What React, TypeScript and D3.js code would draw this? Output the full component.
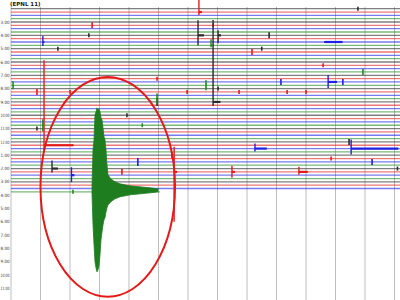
import React from "react";
import * as d3 from "d3";

// ---- data ----
const traceCount = 56; // rows, 15 minutes each
const rowColors = ["#2a2a2a", "#e41a1a", "#1f1fe6", "#1f8a1f"]; // cycle per row
const lastRowEndMinute = 5.05;
const hourLabels = ["3:00","4:00","5:00","6:00","7:00","8:00","9:00","10:00","11:00","12:00","1:00","2:00","3:00","4:00","5:00","6:00","7:00","8:00","9:00","10:00","11:00"];
const headerText = "(EPNL 11)";
const gridMinutes = [0,1,2,3,4,5,6,7,8,9,10,11,12,13,14,15];

// large events: row, minute, up amplitude, down amplitude, coda length (minutes)
const eventRows = [1, 8, 8, 28, 11, 22, 10, 42, 49, 41, 48, 50, 49, 42, 49, 10];
const eventMinutes = [6.37, 6.34, 7.02, 6.85, 6.78, 10.75, 1.08, 11.53, 9.76, 1.12, 1.39, 2.05, 5.53, 8.27, 7.49, 10.64];
const eventUp = [14, 15, 5, 82, 6, 7, 6, 9, 5, 85, 8, 8, 25, 5, 6, 1];
const eventDown = [3, 10, 8, 4, 2, 6, 4, 6, 3, 6, 4, 7, 50, 3, 6, 1];
const eventCoda = [0.1, 0.2, 0.1, 0.25, 0.05, 0.3, 0.05, 1.6, 0.3, 1.0, 0.2, 0.1, 0.1, 0.4, 0.1, 0.6];

// small blips: row, minute, amplitude
const blipRows = [5, 8, 12, 23, 25, 25, 36, 35, 32, 28, 35, 44, 46, 49, 55, 21, 23, 27, 25, 25, 24, 5, 8, 13, 12, 22, 22, 17, 25, 25, 19, 0, 46, 45, 40, 48];
const blipMinutes = [2.75, 2.64, 1.59, 0.07, 0.88, 2.0, 0.88, 1.08, 3.93, 4.95, 4.45, 5.46, 4.3, 3.76, 2.1, 4.95, 6.61, 4.95, 5.97, 7.73, 7.02, 6.85, 8.75, 8.17, 8.5, 9.15, 11.25, 10.58, 9.36, 10.0, 11.93, 11.76, 12.24, 10.85, 11.46, 13.1];
const blipAmp = [3, 2, 2, 4, 3, 2, 2, 6, 2, 4, 2, 3, 4, 3, 2, 2, 5, 5, 2, 2, 2, 2, 3, 3, 2, 3, 3, 2, 2, 2, 3, 2, 3, 2, 3, 2];

// main earthquake (green row 55) envelope
const quakeRow = 55;
const quakeMinutes = [2.746, 2.780, 2.814, 2.847, 2.881, 2.915, 2.949, 2.983, 3.017, 3.051, 3.085, 3.119, 3.153, 3.186, 3.220, 3.254, 3.288, 3.356, 3.424, 3.525, 3.695, 3.864, 4.034, 4.373, 4.712, 4.983];
const quakeUp = [6, 42, 52, 77, 80, 84, 82, 83, 80, 74, 72, 64, 55, 52, 42, 27, 17, 14, 12, 10, 8, 7, 6, 5, 4, 3];
const quakeDown = [2, 33, 53, 70, 76, 80, 78, 74, 63, 48, 40, 33, 28, 26, 20, 16, 13, 11, 9, 7, 5, 4, 3, 2, 1, 0];

// annotation ellipse (center minute / row, radii in minutes / rows)
const ringCenter = [3.28, 53.5];
const ringRadius = [2.28, 33];

export default function App() {
  const W = 400, H = 300;
  const x = d3.scaleLinear().domain([0, 15]).range([11, 453.5]);
  const y = d3.scaleLinear().domain([0, 55]).range([8.7, 191.85]);
  const amp = d3.scaleLinear().domain([0, 1]).range([0, 1]);
  const color = (r: number) => rowColors[r % 4];

  const quakeData = quakeMinutes.map((m, i) => ({ m, up: quakeUp[i], down: quakeDown[i] }));
  const yq = y(quakeRow);
  const area = d3.area<any>()
    .x((d) => x(d.m))
    .y0((d) => yq + amp(d.down))
    .y1((d) => yq - amp(d.up))
    .curve(d3.curveLinear);

  const labelRows = hourLabels.map((_, i) => 4 * (i + 1));

  return (
    <svg width={W} height={H} style={{ position: "fixed", left: 0, top: 0, background: "#fff" }}
      fontFamily="DejaVu Sans, sans-serif">
      <rect width={W} height={H} fill="#fff" />
      {/* vertical grid */}
      {gridMinutes.map((m) => (
        <line key={"g" + m} x1={x(m)} x2={x(m)} y1={7} y2={H} stroke="#bdbdbd" strokeWidth={1} />
      ))}
      {/* traces */}
      {d3.range(traceCount).map((r) => (
        <line key={"t" + r} x1={x(0)} x2={r === traceCount - 1 ? x(lastRowEndMinute) : W}
          y1={y(r)} y2={y(r)} stroke={color(r)} strokeWidth={1.3} strokeOpacity={0.6} />
      ))}
      {/* blips */}
      {blipRows.map((r, i) => (
        <line key={"b" + i} x1={x(blipMinutes[i])} x2={x(blipMinutes[i])}
          y1={y(r) - amp(blipAmp[i])} y2={y(r) + amp(blipAmp[i])} stroke={color(r)} strokeWidth={1.6} />
      ))}
      {/* events */}
      {eventRows.map((r, i) => (
        <g key={"e" + i} stroke={color(r)}>
          <line x1={x(eventMinutes[i])} x2={x(eventMinutes[i])} y1={y(r) - amp(eventUp[i])}
            y2={y(r) + amp(eventDown[i])} strokeWidth={1.4} />
          <line x1={x(eventMinutes[i])} x2={x(eventMinutes[i] + eventCoda[i])} y1={y(r)} y2={y(r)} strokeWidth={2.2} />
        </g>
      ))}
      {/* earthquake */}
      <path d={area(quakeData) || ""} fill="#1e7d1e" stroke="#1e7d1e" strokeWidth={0.8} />
      {/* annotation ring */}
      <ellipse cx={x(ringCenter[0])} cy={y(ringCenter[1])}
        rx={x(ringCenter[0] + ringRadius[0]) - x(ringCenter[0])}
        ry={y(ringCenter[1] + ringRadius[1]) - y(ringCenter[1])}
        fill="none" stroke="#e41a1a" strokeWidth={2} />
      {/* labels */}
      {hourLabels.map((t, i) => (
        <text key={"l" + i} x={0.5} y={y(labelRows[i]) + 1.6} fontSize={4.5} textLength={9}
          lengthAdjust="spacingAndGlyphs" fill="#333">{t}</text>
      ))}
      <text x={10} y={6} fontSize={5.5} fill="#222" fontWeight="bold">{headerText}</text>
    </svg>
  );
}
